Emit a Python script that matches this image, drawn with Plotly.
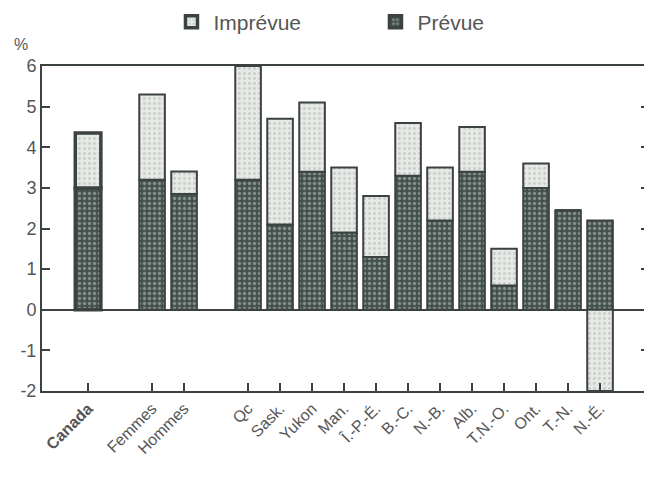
import plotly.graph_objects as go

categories = ["Canada", " ", "Femmes", "Hommes", "  ", "Qc", "Sask.", "Yukon", "Man.",
              "Î.-P.-É.", "B.-C.", "N.-B.", "Alb.", "T.N.-O.", "Ont.", "T.-N.", "N.-É."]
tick_categories = ["Canada", "Femmes", "Hommes", "Qc", "Sask.", "Yukon", "Man.",
                   "Î.-P.-É.", "B.-C.", "N.-B.", "Alb.", "T.N.-O.", "Ont.", "T.-N.", "N.-É."]
tick_labels = ["<b>Canada</b>", "Femmes", "Hommes", "Qc", "Sask.", "Yukon", "Man.",
               "Î.-P.-É.", "B.-C.", "N.-B.", "Alb.", "T.N.-O.", "Ont.", "T.-N.", "N.-É."]
prevue = [3.0, None, 3.2, 2.85, None, 3.2, 2.1, 3.4, 1.9, 1.3, 3.3, 2.2, 3.4, 0.6, 3.0, 2.45, 2.2]
imprevue = [1.35, None, 2.1, 0.55, None, 2.8, 2.6, 1.7, 1.6, 1.5, 1.3, 1.3, 1.1, 0.9, 0.6, 0.0, -2.0]
y_ticks = [6, 5, 4, 3, 2, 1, 0, -1, -2]

edge = "#3b423f"
line_w = [3.5 if c == "Canada" else 2 for c in categories]

fig = go.Figure()
fig.add_trace(go.Bar(
    x=categories, y=prevue, name="Prévue", width=0.8,
    marker=dict(color="#44524d", line=dict(color=edge, width=line_w),
                pattern=dict(shape=".", fgcolor="#c4ccc8", bgcolor="#44524d", size=5, solidity=0.35)),
))
fig.add_trace(go.Bar(
    x=categories, y=imprevue, name="Imprévue", width=0.8,
    marker=dict(color="#e3e6e3", line=dict(color=edge, width=line_w),
                pattern=dict(shape=".", fgcolor="#aab2ae", bgcolor="#e6e9e6", size=5, solidity=0.25)),
))

fig.update_layout(
    width=652, height=492,
    barmode="relative",
    paper_bgcolor="white", plot_bgcolor="white",
    margin=dict(l=34, r=11, t=58, b=109, autoexpand=False),
    font=dict(family="Liberation Sans, Arial, sans-serif", color="#555555"),
    showlegend=True,
    legend=dict(orientation="h", x=0.21, xanchor="left", y=1.135, yanchor="middle",
                traceorder="reversed", font=dict(size=21, color="#555555"),
                entrywidth=155, itemwidth=34, bgcolor="rgba(0,0,0,0)"),
    xaxis=dict(
        type="category", categoryorder="array", categoryarray=categories,
        range=[-1.44, 17.53], automargin=False,
        tickmode="array", tickvals=tick_categories, ticktext=tick_labels,
        tickangle=-45, ticks="inside", ticklen=8, tickwidth=2, tickcolor=edge,
        showline=True, linecolor=edge, linewidth=2, mirror=True,
        showgrid=False, tickfont=dict(size=16, color="#555555"),
    ),
    yaxis=dict(
        range=[-2, 6], tickmode="array", tickvals=y_ticks, automargin=False,
        ticktext=[str(v) for v in y_ticks],
        ticks="inside", ticklen=8, tickwidth=2, tickcolor=edge,
        showline=True, linecolor=edge, linewidth=2, mirror="ticks",
        showgrid=False, zeroline=True, zerolinecolor=edge, zerolinewidth=2,
        tickfont=dict(size=18, color="#555555"),
    ),
    annotations=[dict(text="%", xref="paper", yref="paper", x=-0.05, y=1.035,
                      xanchor="left", yanchor="bottom", showarrow=False,
                      font=dict(size=16, color="#555555"))],
)

fig.write_html("out.html")
